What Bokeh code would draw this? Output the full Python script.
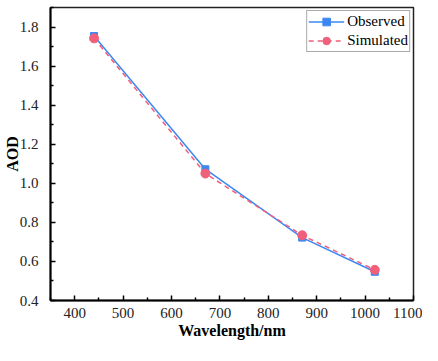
from bokeh.plotting import figure
from bokeh.models import Legend, LegendItem, FixedTicker, NumeralTickFormatter
from bokeh.embed import file_html
from bokeh.resources import INLINE

wavelength = [440, 670, 870, 1020]
observed = [1.754, 1.072, 0.722, 0.547]
simulated = [1.742, 1.050, 0.734, 0.557]
x_ticks = [400, 500, 600, 700, 800, 900, 1000, 1100]
y_ticks = [0.4, 0.6, 0.8, 1.0, 1.2, 1.4, 1.6, 1.8]

BLUE = "#3D87F2"
PINK = "#F0607A"
FONT = "Liberation Serif"

p = figure(width=422, height=345, x_range=(350, 1100), y_range=(0.4, 1.9),
           output_backend="svg", toolbar_location=None)
p.min_border_left = 47
p.min_border_right = 9
p.min_border_top = 7
p.min_border_bottom = 45
p.grid.visible = False
p.outline_line_color = "#222222"
p.outline_line_width = 1.5
p.background_fill_color = "white"
p.border_fill_color = "white"

for ax in (p.xaxis[0], p.yaxis[0]):
    ax.axis_line_width = 2
    ax.axis_line_color = "black"
    ax.major_tick_in = 5
    ax.major_tick_out = 0
    ax.minor_tick_in = 3
    ax.minor_tick_out = 0
    ax.major_tick_line_width = 1.5
    ax.minor_tick_line_width = 1.5
    ax.major_label_text_font = FONT
    ax.major_label_text_font_size = "15px"
    ax.major_label_text_color = "#222222"
    ax.axis_label_text_font = FONT
    ax.axis_label_text_font_style = "bold"
    ax.axis_label_text_font_size = "16px"
    ax.axis_label_text_color = "black"

p.xaxis.ticker = FixedTicker(ticks=x_ticks, minor_ticks=[x + 50 for x in x_ticks[:-1]] + [350])
p.yaxis.ticker = FixedTicker(ticks=y_ticks, minor_ticks=[round(y + 0.1, 2) for y in y_ticks])
p.yaxis.formatter = NumeralTickFormatter(format="0.0")
p.xaxis.axis_label = "Wavelength/nm"
p.yaxis.axis_label = "AOD"
p.xaxis.major_label_standoff = 7
p.yaxis.major_label_standoff = 12
p.xaxis.axis_label_standoff = 1
p.yaxis.axis_label_standoff = -4

l1 = p.line(wavelength, observed, line_color=BLUE, line_width=1.5)
s1 = p.scatter(wavelength, observed, marker="square", size=7, fill_color=BLUE, line_color=BLUE)
l2 = p.line(wavelength, simulated, line_color=PINK, line_width=1.5, line_dash="5 4")
s2 = p.scatter(wavelength, simulated, marker="circle", size=9, fill_color=PINK, line_color=PINK)

legend = Legend(items=[LegendItem(label="Observed", renderers=[l1, s1]),
                       LegendItem(label="Simulated", renderers=[l2, s2])],
                location="top_right")
legend.label_text_font = FONT
legend.label_text_font_size = "15px"
legend.label_text_color = "black"
legend.border_line_color = "#555555"
legend.border_line_width = 1
legend.margin = 3
legend.padding = 1
legend.spacing = 0
legend.glyph_width = 36
legend.glyph_height = 19
legend.label_standoff = 3
legend.label_height = 19
p.add_layout(legend)

open("out.html", "w").write(file_html(p, INLINE))
